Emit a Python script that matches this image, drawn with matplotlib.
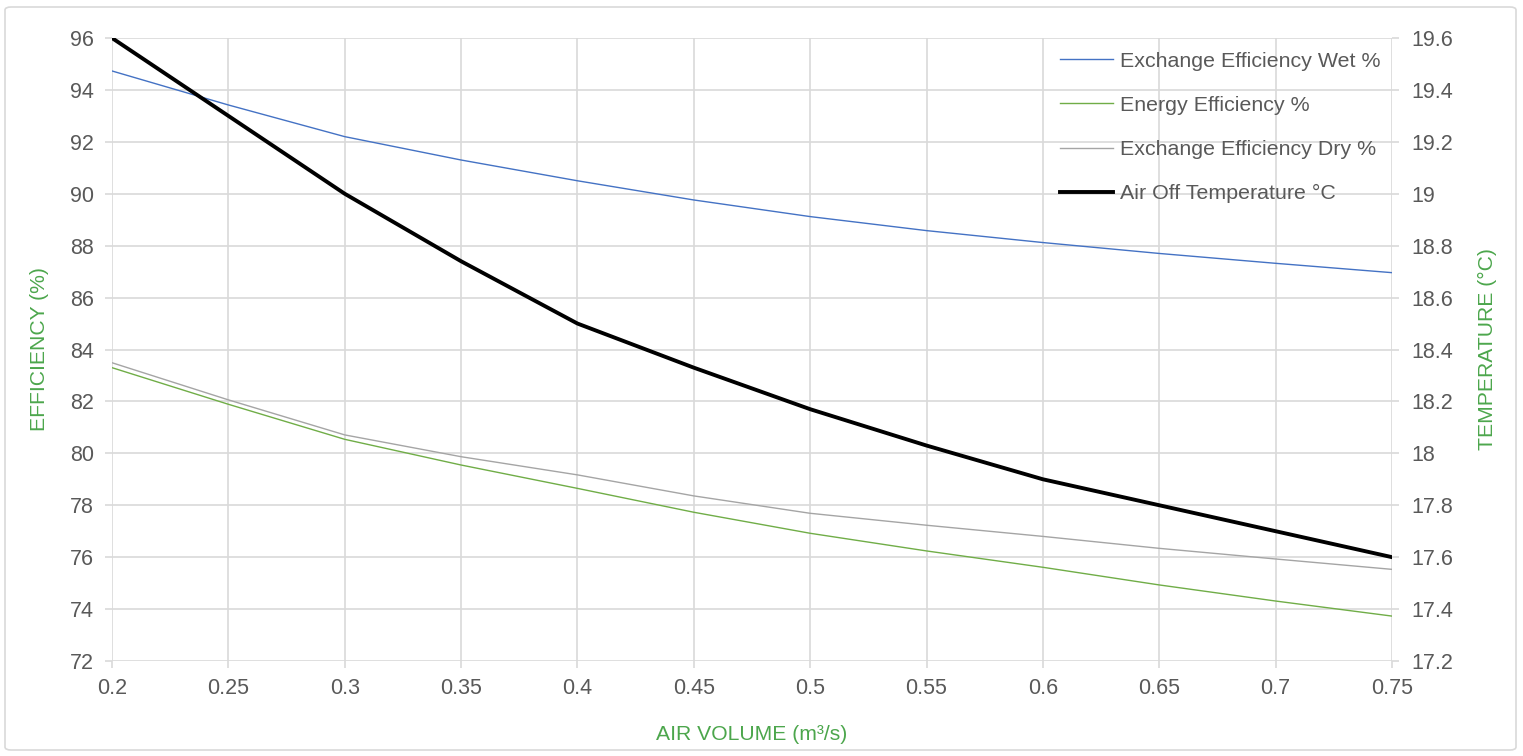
import matplotlib
matplotlib.use("Agg")
import matplotlib.pyplot as plt
from matplotlib.patches import FancyBboxPatch
from matplotlib.ticker import FuncFormatter

# Данные
air_volume = [0.2, 0.25, 0.3, 0.35, 0.4, 0.45, 0.5, 0.55, 0.6, 0.65, 0.7, 0.75]
wet_eff = [94.73, 93.42, 92.2, 91.3, 90.5, 89.76, 89.12, 88.58, 88.12, 87.7, 87.32, 86.96]
energy_eff = [83.3, 81.89, 80.54, 79.55, 78.65, 77.73, 76.92, 76.24, 75.61, 74.93, 74.31, 73.73]
dry_eff = [83.49, 82.06, 80.71, 79.87, 79.17, 78.36, 77.69, 77.23, 76.8, 76.34, 75.93, 75.53]
air_off_temp = [19.6, 19.3, 19.0, 18.74, 18.5, 18.33, 18.17, 18.03, 17.9, 17.8, 17.7, 17.6]

plt.rcParams['font.family'] = ['Liberation Sans', 'DejaVu Sans']

tick_color = '#595959'
grid_color = '#D9D9D9'
label_green = '#4CA64C'

fig = plt.figure(figsize=(15.23, 7.56), dpi=100)
ax = fig.add_axes([112 / 1523, 1 - 661 / 756, 1280 / 1523, 623 / 756])
ax2 = ax.twinx()

# рамка вокруг рисунка
fig.patches.append(FancyBboxPatch((5 / 1523, 6 / 756), 1511 / 1523, 743 / 756,
                                  boxstyle="round,pad=0,rounding_size=0.004",
                                  transform=fig.transFigure, fill=False,
                                  edgecolor=grid_color, linewidth=1.2))

l1, = ax.plot(air_volume, wet_eff, color='#4472C4', lw=1.0, label='Exchange Efficiency Wet %')
l2, = ax.plot(air_volume, energy_eff, color='#70AD47', lw=1.0, label='Energy Efficiency %')
l3, = ax.plot(air_volume, dry_eff, color='#A5A5A5', lw=1.0, label='Exchange Efficiency Dry %')
l4, = ax2.plot(air_volume, air_off_temp, color='black', lw=2.8, label='Air Off Temperature °C')

ax.set_xlim(0.2, 0.75)
ax.set_ylim(72, 96)
ax2.set_ylim(17.2, 19.6)
ax.set_xticks([0.2 + 0.05 * i for i in range(12)])
ax.set_yticks(range(72, 97, 2))
ax2.set_yticks([17.2 + 0.2 * i for i in range(13)])

ax.xaxis.set_major_formatter(FuncFormatter(lambda v, p: f'{round(v, 2):g}'))
ax2.yaxis.set_major_formatter(FuncFormatter(lambda v, p: f'{round(v, 1):g}'))

ax.grid(True, color=grid_color, lw=1.2)
ax.set_axisbelow(True)
for a in (ax, ax2):
    for s in a.spines.values():
        s.set_visible(False)

ax.tick_params(axis='both', colors=grid_color, labelcolor=tick_color, labelsize=15.5,
               length=5, width=1.2)
ax.tick_params(axis='y', pad=8)
ax.tick_params(axis='x', pad=7)
ax2.tick_params(axis='y', colors=grid_color, labelcolor=tick_color, labelsize=15.5,
                length=5, width=1.2, pad=9)

ax.set_xlabel('AIR VOLUME (m³/s)', color=label_green, fontsize=15.2, labelpad=19)
ax.set_ylabel('EFFICIENCY (%)', color=label_green, fontsize=15.2, labelpad=15)
ax2.set_ylabel('TEMPERATURE (°C)', color=label_green, fontsize=15.2, labelpad=18)

ax2.legend(handles=[l1, l2, l3, l4], loc='upper left', bbox_to_anchor=(0.7406, 0.978),
           frameon=False, fontsize=15.4, labelcolor=tick_color, handlelength=2.5,
           handletextpad=0.3, labelspacing=1.18, borderpad=0, borderaxespad=0)

fig.savefig('out.png', dpi=100)
